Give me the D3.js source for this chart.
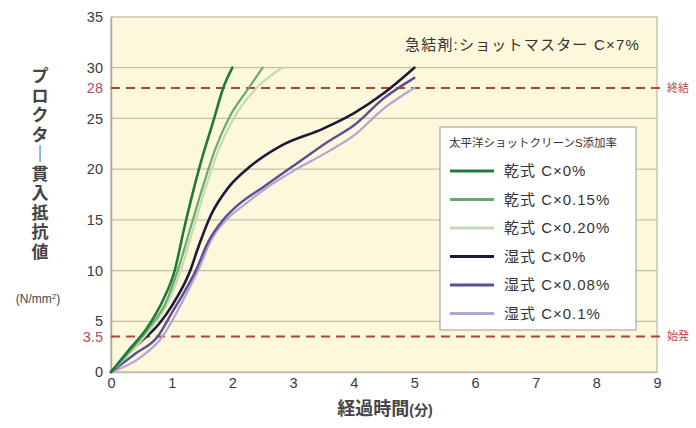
<!DOCTYPE html>
<html>
<head>
<meta charset="utf-8">
<script src="https://cdn.jsdelivr.net/npm/d3@7"></script>
<style>
  body { margin: 0; background: #ffffff; }
  text { font-family: "Liberation Sans", Arial, "Noto Sans CJK JP", sans-serif; }
</style>
</head>
<body>
<div id="vis"></div>
<script>
// frame dimensions
const FRAME_WIDTH = 696;
const FRAME_HEIGHT = 428;
const MARGINS = {left: 111, right: 39, top: 17, bottom: 56};
const VIS_WIDTH = FRAME_WIDTH - MARGINS.left - MARGINS.right;
const VIS_HEIGHT = FRAME_HEIGHT - MARGINS.top - MARGINS.bottom;

// tick labels
const X_TICKS = [0, 1, 2, 3, 4, 5, 6, 7, 8, 9];
const Y_TICKS = [0, 5, 10, 15, 20, 25, 30, 35];

// reference levels (始発 / 終結)
const REF_VALUES = [3.5, 28];
const REF_LABELS = ["始発", "終結"];

// series names
const SERIES_NAMES = ["乾式 C×0%", "乾式 C×0.15%", "乾式 C×0.20%",
                      "湿式 C×0%", "湿式 C×0.08%", "湿式 C×0.1%"];
const SERIES_COLORS = ["#1e7a3c", "#6aaa6c", "#c3dab4", "#1b1a3a", "#5b4d94", "#b3a4d6"];
const SERIES_WIDTHS = [2.6, 2.2, 2.2, 2.6, 2.4, 2.2];

// series values: elapsed minutes and resistance
const DRY0_T = [0, 0.3, 0.6, 0.85, 1.05, 1.2, 1.45, 1.7, 1.85, 2.0];
const DRY0_V = [0, 2.2, 4.4, 7, 10, 14, 20, 25, 28, 30];
const DRY015_T = [0, 0.3, 0.62, 0.9, 1.1, 1.3, 1.5, 1.72, 1.94, 2.27, 2.5];
const DRY015_V = [0, 2.0, 4.3, 6.8, 10, 14, 18, 22, 25, 28, 30];
const DRY020_T = [0, 0.3, 0.65, 0.95, 1.15, 1.35, 1.55, 1.78, 2.02, 2.4, 2.82];
const DRY020_V = [0, 1.8, 4.2, 7, 10, 14, 18, 22, 25, 28, 30];
const WET0_T = [0, 0.4, 0.8, 1.0, 1.3, 1.45, 1.65, 1.95, 2.3, 2.8, 3.5, 4.0, 4.5, 5.0];
const WET0_V = [0, 2.5, 4.8, 6.5, 9.9, 12.5, 15.5, 18.3, 20.3, 22.3, 24, 25.5, 27.5, 30];
const WET008_T = [0, 0.4, 0.77, 1.0, 1.2, 1.39, 1.6, 1.85, 2.1, 2.5, 3.0, 3.6, 4.0, 4.5, 5.0];
const WET008_V = [0, 1.8, 3.5, 5.8, 7.8, 9.9, 12.8, 15, 16.5, 18.2, 20.3, 22.8, 24.3, 27, 29];
const WET01_T = [0, 0.5, 0.85, 1.05, 1.25, 1.45, 1.65, 1.9, 2.2, 2.6, 3.0, 3.6, 4.0, 4.5, 5.0];
const WET01_V = [0, 1.5, 3.5, 5.5, 7.8, 10.2, 13, 15, 16.5, 18.3, 19.8, 21.8, 23.3, 26, 28];

const SERIES_T = [DRY0_T, DRY015_T, DRY020_T, WET0_T, WET008_T, WET01_T];
const SERIES_V = [DRY0_V, DRY015_V, DRY020_V, WET0_V, WET008_V, WET01_V];

// builds the series objects from the arrays
const series = SERIES_NAMES.map((name, i) => ({
  name: name,
  color: SERIES_COLORS[i],
  width: SERIES_WIDTHS[i],
  points: SERIES_T[i].map((t, j) => ({t: t, v: SERIES_V[i][j]}))
}));

const FRAME = d3.select("#vis")
                .append("svg")
                  .attr("width", FRAME_WIDTH)
                  .attr("height", FRAME_HEIGHT);

const X_SCALE = d3.scaleLinear().domain([0, 9]).range([0, VIS_WIDTH]);
const Y_SCALE = d3.scaleLinear().domain([0, 35]).range([VIS_HEIGHT, 0]);

const G = FRAME.append("g")
               .attr("transform", "translate(" + MARGINS.left + "," + MARGINS.top + ")");

// plot background
G.append("rect")
  .attr("width", VIS_WIDTH)
  .attr("height", VIS_HEIGHT)
  .attr("fill", "#fdf8dc");

// horizontal gridlines
G.selectAll(".grid")
  .data(Y_TICKS.filter(d => d > 0 && d < 35))
  .enter()
  .append("line")
    .attr("x1", 0)
    .attr("x2", VIS_WIDTH)
    .attr("y1", d => Y_SCALE(d))
    .attr("y2", d => Y_SCALE(d))
    .attr("stroke", "#c8bfa4")
    .attr("stroke-width", 1.3);

// frame border
G.append("rect")
  .attr("width", VIS_WIDTH)
  .attr("height", VIS_HEIGHT)
  .attr("fill", "none")
  .attr("stroke", "#c4bca6")
  .attr("stroke-width", 1.3);

// axes
const xAxis = G.append("g")
  .attr("transform", "translate(0," + VIS_HEIGHT + ")")
  .call(d3.axisBottom(X_SCALE).tickValues(X_TICKS).tickSize(0).tickPadding(6));
const yAxis = G.append("g")
  .call(d3.axisLeft(Y_SCALE).tickValues(Y_TICKS).tickSize(0).tickPadding(8));

[xAxis, yAxis].forEach(ax => {
  ax.select(".domain").attr("stroke", "#a9a9a9").attr("stroke-width", 1.5);
  ax.selectAll("text").attr("font-size", "14.5px").attr("fill", "#3a3a3a");
});
xAxis.select(".domain").attr("stroke", "#c4bca6");

// extra red tick labels for the reference levels
G.selectAll(".reflabel")
  .data(REF_VALUES)
  .enter()
  .append("text")
    .attr("x", -8)
    .attr("y", d => Y_SCALE(d))
    .attr("dy", "0.35em")
    .attr("text-anchor", "end")
    .attr("font-size", "14.5px")
    .attr("fill", "#b84a4e")
    .text(d => d);

// dashed reference lines
G.selectAll(".ref")
  .data(REF_VALUES)
  .enter()
  .append("line")
    .attr("x1", 0)
    .attr("x2", VIS_WIDTH + 4)
    .attr("y1", d => Y_SCALE(d))
    .attr("y2", d => Y_SCALE(d))
    .attr("stroke", "#a9482e")
    .attr("stroke-width", 2)
    .attr("stroke-dasharray", "9,6");

G.selectAll(".refname")
  .data(REF_VALUES)
  .enter()
  .append("text")
    .attr("x", VIS_WIDTH + 10)
    .attr("y", d => Y_SCALE(d))
    .attr("dy", "0.35em")
    .attr("font-size", "11px")
    .attr("fill", "#c0444c")
    .text((d, i) => REF_LABELS[i]);

// series lines
const line = d3.line()
  .x(d => X_SCALE(d.t))
  .y(d => Y_SCALE(d.v))
  .curve(d3.curveMonotoneX);

G.selectAll(".series")
  .data(series.slice().reverse())
  .enter()
  .append("path")
    .attr("d", d => line(d.points))
    .attr("fill", "none")
    .attr("stroke", d => d.color)
    .attr("stroke-width", d => d.width)
    .attr("stroke-linecap", "round");

// annotation
G.append("text")
  .attr("x", VIS_WIDTH - 17)
  .attr("y", 33)
  .attr("text-anchor", "end")
  .attr("font-size", "15px")
  .attr("letter-spacing", "1.2px")
  .attr("fill", "#333")
  .text("急結剤:ショットマスター C×7%");

// legend
const LEG_X = 329, LEG_Y = 110, LEG_W = 196, LEG_H = 203;
const legend = G.append("g").attr("transform", "translate(" + LEG_X + "," + LEG_Y + ")");
legend.append("rect")
  .attr("width", LEG_W)
  .attr("height", LEG_H)
  .attr("fill", "#ffffff")
  .attr("stroke", "#a8a8a8")
  .attr("stroke-width", 1.2);
legend.append("text")
  .attr("x", 9)
  .attr("y", 20)
  .attr("font-size", "11.5px")
  .attr("fill", "#333")
  .text("太平洋ショットクリーンS添加率");

const rows = legend.selectAll(".row")
  .data(series)
  .enter()
  .append("g")
    .attr("transform", (d, i) => "translate(0," + (44 + i * 28.5) + ")");
rows.append("line")
  .attr("x1", 10).attr("x2", 54)
  .attr("stroke", d => d.color)
  .attr("stroke-width", 3);
rows.append("text")
  .attr("x", 64)
  .attr("dy", "0.35em")
  .attr("font-size", "15px")
  .attr("letter-spacing", "1px")
  .attr("fill", "#333")
  .text(d => d.name);

// axis titles
const yTitle = FRAME.append("text")
  .attr("x", 40)
  .attr("y", 75)
  .attr("font-size", "17px")
  .attr("font-weight", "bold")
  .attr("fill", "#444")
  .attr("text-anchor", "middle");
"プロクター貫入抵抗値".split("").forEach((c, i) => {
  yTitle.append("tspan")
    .attr("x", 40)
    .attr("y", 82 + i * 19.5)
    .text(c === "ー" ? "｜" : c);
});
FRAME.append("text")
  .attr("x", 38)
  .attr("y", 303)
  .attr("text-anchor", "middle")
  .attr("font-size", "12px")
  .attr("fill", "#444")
  .html("(N/mm<tspan font-size='8px' dy='-4'>2</tspan><tspan dy='4'>)</tspan>");

const xTitle = FRAME.append("text")
  .attr("x", 385)
  .attr("y", 415)
  .attr("text-anchor", "middle")
  .attr("fill", "#444")
  .attr("font-weight", "bold");
xTitle.append("tspan").attr("font-size", "18px").text("経過時間");
xTitle.append("tspan").attr("font-size", "14px").text("(分)");
</script>
</body>
</html>
